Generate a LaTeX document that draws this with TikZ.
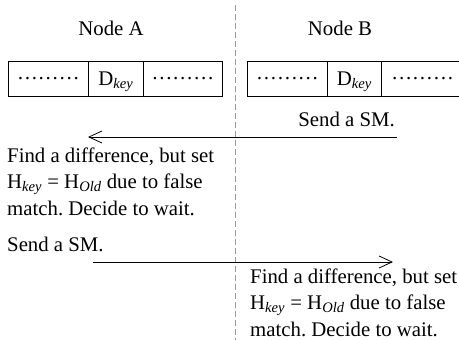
\documentclass[tikz,border=0pt]{standalone}
\usepackage{fontspec}
\setmainfont{Liberation Serif}
\usetikzlibrary{arrows.meta}
\frenchspacing
\newcommand{\sub}[1]{\textsubscript{\itshape #1}}
\newcommand{\mydots}{\raisebox{6pt}{\char"2026\char"2026\char"2026}}
\begin{document}
\begin{tikzpicture}[x=1pt,y=-1pt,
  every node/.style={font=\fontsize{20.8}{26.5}\selectfont\frenchspacing, inner sep=0pt},
  cell/.style={draw, line width=0.8pt, minimum height=35pt, text height=15pt, text depth=2pt, anchor=north west},
  msg/.style={line width=0.8pt, -{Straight Barb[length=13pt,width=12pt,line width=0.8pt]}},
  txt/.style={align=left, anchor=base west}]
\path[use as bounding box, clip] (0,0) rectangle (459,340);
% time line divider
\draw[gray!80, line width=0.7pt, dash pattern=on 6pt off 3pt] (235,5) -- (235,340);
% headings
\node[anchor=base] (hA) at (111,35) {Node A};
\node[anchor=base] (hB) at (340,35) {Node B};
% Node A record
\node[cell, minimum width=80pt] (a1) at (8,61) {\mydots};
\node[cell, minimum width=55pt] (a2) at (88,61) {D\sub{key}};
\node[cell, minimum width=79pt] (a3) at (143,61) {\mydots};
% Node B record
\node[cell, minimum width=80pt] (b1) at (247,61) {\mydots};
\node[cell, minimum width=54pt] (b2) at (327,61) {D\sub{key}};
\node[cell, minimum width=90pt, text width=78pt, align=left] (b3) at (381,61) {\hspace{4pt}\mydots};
% first message
\node[anchor=base east] (s1) at (395,126) {Send a SM.};
\coordinate (m1s) at (397,137);
\coordinate (m1e) at (88,137);
\draw[msg] (m1s) -- (m1e);
\node[txt] (t1) at (7,215) {Find a difference, but set\\H\sub{key} = H\sub{Old} due to false\\match. Decide to wait.};
% second message
\node[anchor=base west] (s2) at (7,251) {Send a SM.};
\coordinate (m2s) at (93,262);
\coordinate (m2e) at (393,262);
\draw[msg] (m2s) -- (m2e);
\node[txt] (t2) at (250,336) {Find a difference, but set\\H\sub{key} = H\sub{Old} due to false\\match. Decide to wait.};
\end{tikzpicture}
\end{document}
